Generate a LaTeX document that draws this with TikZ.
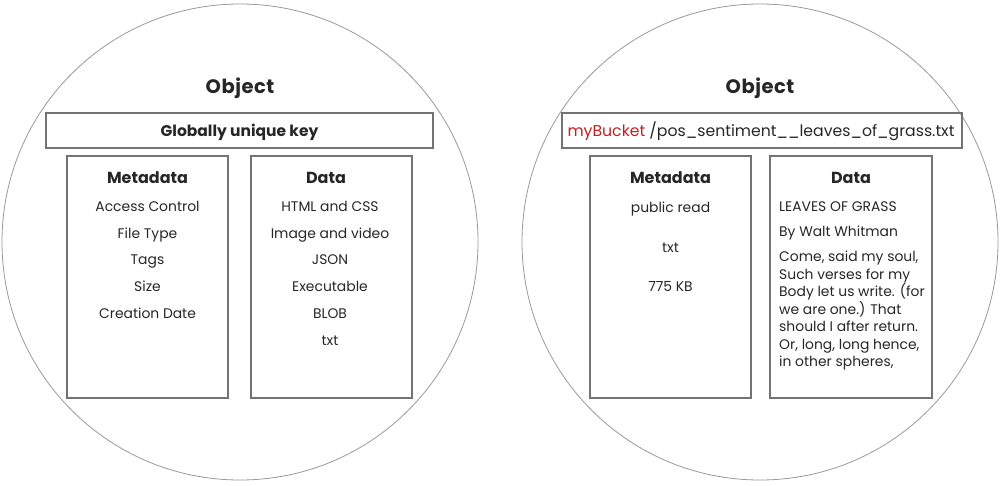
\documentclass[tikz,border=0pt]{standalone}
\usepackage{fontspec}
\setmainfont{Poppins}
\definecolor{keyred}{RGB}{200,30,30}
\begin{document}
\begin{tikzpicture}[x=1pt,y=-1pt,
  obj/.style={draw=black!40, line width=0.8pt, circle, minimum size=476pt, inner sep=0},
  box/.style={draw=black!55, line width=1.2pt, inner sep=0, rectangle},
  ttl/.style={font=\bfseries\fontsize{19.5}{22}\selectfont, text=black!85, text height=14pt, text depth=4pt, yshift=-2pt},
  head/.style={font=\bfseries\fontsize{16}{18}\selectfont, text=black!85, text height=11.5pt, text depth=3.5pt, yshift=-2pt},
  keytxt/.style={font=\fontsize{15.7}{18}\selectfont, text=black!85, text height=11.5pt, text depth=3.5pt, yshift=-1.5pt},
  item/.style={font=\fontsize{13.9}{16}\selectfont, text=black!85, text height=10pt, text depth=3pt, yshift=-2pt}]
\useasboundingbox (0,0) rectangle (1000,485);
% left object
\node[obj] (c1) at (240,242) {};
\node[ttl] (t1) at (240,86) {O\kern0.5pt b\kern0.5pt j\kern0.5pt e\kern0.5pt c\kern0.5pt t};
\node[box, minimum width=387pt, minimum height=35pt] (k1) at (239.5,130.5) {};
\node[keytxt, font=\bfseries\fontsize{15.5}{18}\selectfont] (k1t) at (k1.center) {Globally unique key};
\node[box, minimum width=161pt, minimum height=242pt] (m1) at (147.5,277) {};
\node[box, minimum width=161pt, minimum height=242pt] (d1) at (331.5,277) {};
\node[head] (m1h) at (147.5,177) {Metadata};
\node[head] (d1h) at (326,177) {Data};
\node[item] (m1a) at (147.5,206) {Access Control};
\node[item] (m1b) at (147.5,233) {File Type};
\node[item] (m1c) at (147.5,259) {Tags};
\node[item] (m1d) at (147.5,286) {Size};
\node[item] (m1e) at (147.5,313) {Creation Date};
\node[item] (d1a) at (330,206) {HTML and CSS};
\node[item] (d1b) at (330,233) {Image and video};
\node[item] (d1c) at (330,259) {JSON};
\node[item] (d1d) at (330,286) {Executable};
\node[item] (d1e) at (330,313) {BLOB};
\node[item] (d1f) at (330,340) {txt};
% right object
\node[obj] (c2) at (760,242) {};
\node[ttl] (t2) at (760,86) {O\kern0.5pt b\kern0.5pt j\kern0.5pt e\kern0.5pt c\kern0.5pt t};
\node[box, minimum width=400pt, minimum height=35pt] (k2) at (762,130.5) {};
\node[keytxt] (k2t) at (761,130.5) {\textcolor{keyred}{myBucket} /pos\_sentiment\_\_leaves\_of\_grass.txt};
\node[box, minimum width=161pt, minimum height=242pt] (m2) at (670.5,277) {};
\node[box, minimum width=162pt, minimum height=242pt] (d2) at (851,277) {};
\node[head] (m2h) at (670.5,177) {Metadata};
\node[head] (d2h) at (851,177) {Data};
\node[item] (m2a) at (670.5,207) {public read};
\node[item] (m2b) at (670.5,247) {txt};
\node[item] (m2c) at (670.5,286) {775 KB};
\node[item, anchor=west, inner sep=0] (d2a) at (779,206) {LEAVES OF GRASS};
\node[item, anchor=west, inner sep=0] (d2b) at (779,231) {By Walt Whitman};
\node[item, anchor=north west, inner sep=0, align=left, text height=, text depth=, yshift=1pt, font=\fontsize{13.9}{17.5}\selectfont] (d2c) at (779,250) {Come, said my soul,\\Such verses for my\\Body let us write. (for\\we are one.) That\\should I after return.\\Or, long, long hence,\\in other spheres,};
\end{tikzpicture}
\end{document}
